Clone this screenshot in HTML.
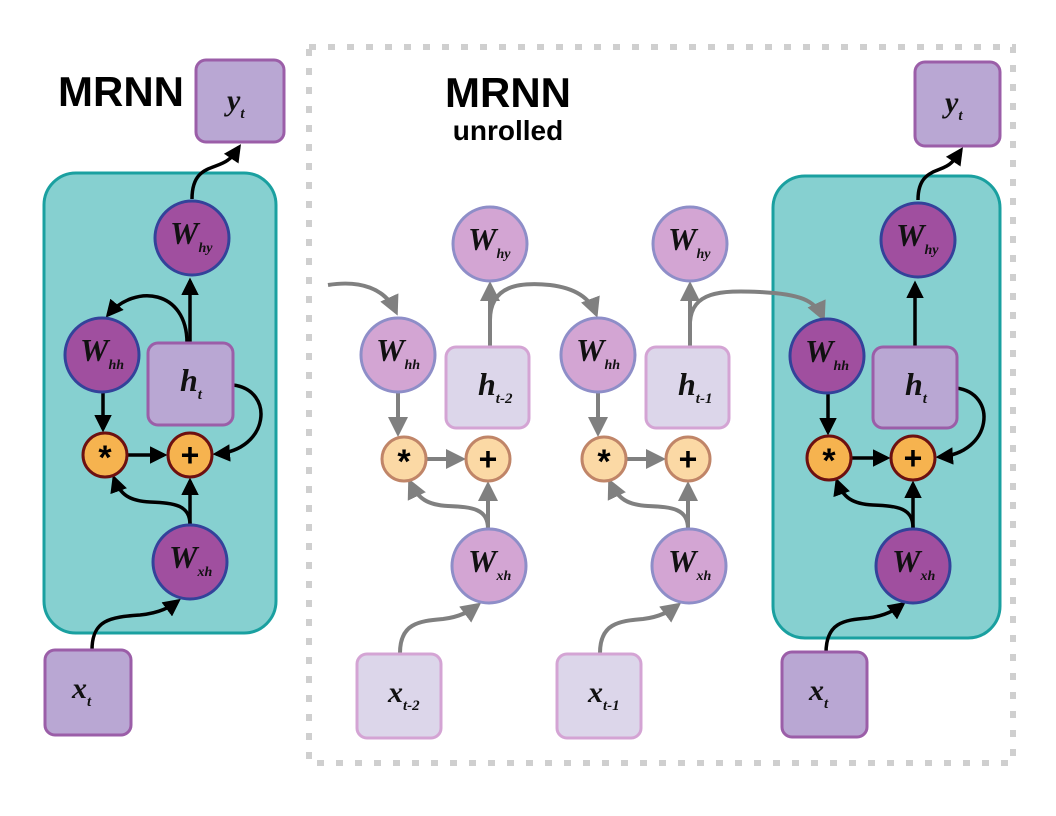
<!DOCTYPE html>
<html><head><meta charset="utf-8"><style>
html,body{margin:0;padding:0;background:#fff;width:1056px;height:816px;overflow:hidden}
svg{display:block}
.t{font-family:"Liberation Serif",serif;font-style:italic;font-weight:bold;fill:#111}
.h{font-family:"Liberation Sans",sans-serif;font-weight:bold;fill:#000}
</style></head><body>
<svg width="1056" height="816" viewBox="0 0 1056 816" xmlns="http://www.w3.org/2000/svg">
<defs>
<marker id="ab" markerWidth="5" markerHeight="5" refX="4" refY="2.5" orient="auto" markerUnits="strokeWidth"><path d="M0,0 L5,2.5 L0,5 z" fill="#000"/></marker>
<marker id="ag" markerWidth="5" markerHeight="5" refX="4" refY="2.5" orient="auto" markerUnits="strokeWidth"><path d="M0,0 L5,2.5 L0,5 z" fill="#808080"/></marker>
</defs>

<rect x="309" y="47" width="704" height="716" fill="none" stroke="#cfcfcf" stroke-width="6" stroke-dasharray="7 12"/>
<text class="h" x="58" y="106" font-size="42">MRNN</text>
<text class="h" x="508" y="107" font-size="42" text-anchor="middle">MRNN</text>
<text class="h" x="508" y="140" font-size="28" text-anchor="middle">unrolled</text>

<rect x="44" y="173" width="232" height="460" rx="32" fill="#86d0d0" stroke="#1aa0a0" stroke-width="3"/>
<rect x="773" y="176" width="227" height="462" rx="32" fill="#86d0d0" stroke="#1aa0a0" stroke-width="3"/>

<g fill="none" stroke="#808080" stroke-width="4">
<path d="M328,285 C360,280 385,288 396,312" marker-end="url(#ag)"/>
<path d="M490,320 C490,285 520,282 550,285 C575,288 590,298 596,314" marker-end="url(#ag)"/>
<path d="M690,322 C692,292 720,290 760,292 C800,294 815,300 823,318" marker-end="url(#ag)"/>
</g>

<g transform="translate(190,455)">
<g fill="none" stroke="#000" stroke-width="3.5">
<path d="M2,-256 C2,-290 25,-285 38,-295 C45,-300 47,-305 49,-308" marker-end="url(#ab)"/>
<path d="M0,-112 L0,-174" marker-end="url(#ab)"/>
<path d="M-3,-112 C-3,-165 -55,-172 -82,-140" marker-end="url(#ab)"/>
<path d="M-87,-66 L-87,-26" marker-end="url(#ab)"/>
<path d="M-63,0 L-26,0" marker-end="url(#ab)"/>
<path d="M43,-70 C85,-65 80,-5 26,-1" marker-end="url(#ab)"/>
<path d="M0,70 L0,26" marker-end="url(#ab)"/>
<path d="M0,70 C0,50 -15,48 -40,47 C-60,46 -70,40 -76,23" marker-end="url(#ab)"/>
<path d="M-98,195 C-98,165 -80,162 -50,160 C-30,158 -20,152 -12,146" marker-end="url(#ab)"/>
</g>
<rect x="6" y="-395" width="88" height="82" rx="10" fill="#b9a7d3" stroke="#9b5ea8" stroke-width="3"/>
<text class="t" x="37" y="-345" font-size="30">y<tspan font-size="15" dy="8">t</tspan></text>
<circle cx="2" cy="-217" r="37" fill="#a04f9f" stroke="#33429a" stroke-width="3"/>
<text class="t" x="-20" y="-211" font-size="32">W<tspan font-size="14" dy="8">hy</tspan></text>
<circle cx="-88" cy="-100" r="37" fill="#a04f9f" stroke="#33429a" stroke-width="3"/>
<text class="t" x="-110" y="-94" font-size="32">W<tspan font-size="14" dy="8">hh</tspan></text>
<rect x="-42" y="-112" width="85" height="82" rx="10" fill="#b9a7d3" stroke="#9b5ea8" stroke-width="3"/>
<text class="t" x="-10" y="-64" font-size="32">h<tspan font-size="15" dy="8">t</tspan></text>
<circle cx="-85" cy="0" r="22" fill="#f6b34f" stroke="#6d1010" stroke-width="3"/>
<text class="h" x="-85" y="14" font-size="34" text-anchor="middle">*</text>
<circle cx="0" cy="0" r="22" fill="#f6b34f" stroke="#6d1010" stroke-width="3"/>
<text class="h" x="0" y="11" font-size="32" text-anchor="middle">+</text>
<circle cx="0" cy="107" r="37" fill="#a04f9f" stroke="#33429a" stroke-width="3"/>
<text class="t" x="-21" y="113" font-size="32">W<tspan font-size="14" dy="8">xh</tspan></text>
<rect x="-145" y="195" width="86" height="85" rx="10" fill="#b9a7d3" stroke="#9b5ea8" stroke-width="3"/>
<text class="t" x="-118" y="243" font-size="30">x<tspan font-size="15" dy="8">t</tspan></text>
</g>

<g transform="translate(913,458)">
<g fill="none" stroke="#000" stroke-width="3.5">
<path d="M5,-258 C5,-290 28,-285 38,-295 C44,-300 46,-305 48,-308" marker-end="url(#ab)"/>
<path d="M2,-111 L2,-174" marker-end="url(#ab)"/>
<path d="M43,-70 C85,-65 80,-5 26,-1" marker-end="url(#ab)"/>
<path d="M-61,0 L-26,0" marker-end="url(#ab)"/>
<path d="M-85,-66 L-85,-26" marker-end="url(#ab)"/>
<path d="M0,70 L0,26" marker-end="url(#ab)"/>
<path d="M0,70 C0,50 -15,48 -40,47 C-60,46 -70,40 -76,23" marker-end="url(#ab)"/>
<path d="M-87,195 C-87,165 -70,162 -45,160 C-28,158 -18,152 -10,146" marker-end="url(#ab)"/>
</g>
<rect x="2" y="-396" width="85" height="84" rx="10" fill="#b9a7d3" stroke="#9b5ea8" stroke-width="3"/>
<text class="t" x="32" y="-346" font-size="30">y<tspan font-size="15" dy="8">t</tspan></text>
<circle cx="5" cy="-218" r="37" fill="#a04f9f" stroke="#33429a" stroke-width="3"/>
<text class="t" x="-17" y="-212" font-size="32">W<tspan font-size="14" dy="8">hy</tspan></text>
<circle cx="-86" cy="-102" r="37" fill="#a04f9f" stroke="#33429a" stroke-width="3"/>
<text class="t" x="-108" y="-96" font-size="32">W<tspan font-size="14" dy="8">hh</tspan></text>
<rect x="-40" y="-111" width="84" height="81" rx="10" fill="#b9a7d3" stroke="#9b5ea8" stroke-width="3"/>
<text class="t" x="-8" y="-63" font-size="32">h<tspan font-size="15" dy="8">t</tspan></text>
<circle cx="-84" cy="0" r="22" fill="#f6b34f" stroke="#6d1010" stroke-width="3"/>
<text class="h" x="-84" y="14" font-size="34" text-anchor="middle">*</text>
<circle cx="0" cy="0" r="22" fill="#f6b34f" stroke="#6d1010" stroke-width="3"/>
<text class="h" x="0" y="11" font-size="32" text-anchor="middle">+</text>
<circle cx="0" cy="108" r="37" fill="#a04f9f" stroke="#33429a" stroke-width="3"/>
<text class="t" x="-21" y="114" font-size="32">W<tspan font-size="14" dy="8">xh</tspan></text>
<rect x="-131" y="194" width="85" height="85" rx="10" fill="#b9a7d3" stroke="#9b5ea8" stroke-width="3"/>
<text class="t" x="-104" y="242" font-size="30">x<tspan font-size="15" dy="8">t</tspan></text>
</g>

<g transform="translate(488,459)">
<g fill="none" stroke="#808080" stroke-width="4">
<path d="M2,-112 L2,-174" marker-end="url(#ag)"/>
<path d="M-90,-66 L-90,-26" marker-end="url(#ag)"/>
<path d="M-62,0 L-26,0" marker-end="url(#ag)"/>
<path d="M0,70 L0,26" marker-end="url(#ag)"/>
<path d="M0,70 C0,50 -15,48 -40,47 C-60,46 -70,40 -78,23" marker-end="url(#ag)"/>
<path d="M-88,194 C-88,165 -70,162 -45,160 C-28,158 -18,152 -10,146" marker-end="url(#ag)"/>
</g>
<circle cx="2" cy="-215" r="37" fill="#d3a5d3" stroke="#8e8ec8" stroke-width="3"/>
<text class="t" x="-20" y="-209" font-size="32">W<tspan font-size="14" dy="8">hy</tspan></text>
<circle cx="-90" cy="-104" r="37" fill="#d3a5d3" stroke="#8e8ec8" stroke-width="3"/>
<text class="t" x="-112" y="-98" font-size="32">W<tspan font-size="14" dy="8">hh</tspan></text>
<rect x="-42" y="-112" width="83" height="81" rx="10" fill="#dcd6ea" stroke="#d4a4d4" stroke-width="3"/>
<text class="t" x="-10" y="-64" font-size="32">h<tspan font-size="15" dy="8">t-2</tspan></text>
<circle cx="-84" cy="0" r="22" fill="#fbd9a5" stroke="#c08568" stroke-width="3"/>
<text class="h" x="-84" y="14" font-size="34" text-anchor="middle">*</text>
<circle cx="0" cy="0" r="22" fill="#fbd9a5" stroke="#c08568" stroke-width="3"/>
<text class="h" x="0" y="11" font-size="32" text-anchor="middle">+</text>
<circle cx="1" cy="107" r="37" fill="#d3a5d3" stroke="#8e8ec8" stroke-width="3"/>
<text class="t" x="-20" y="113" font-size="32">W<tspan font-size="14" dy="8">xh</tspan></text>
<rect x="-131" y="195" width="84" height="84" rx="10" fill="#dcd6ea" stroke="#d4a4d4" stroke-width="3"/>
<text class="t" x="-100" y="243" font-size="30">x<tspan font-size="15" dy="8">t-2</tspan></text>
</g>

<g transform="translate(688,459)">
<g fill="none" stroke="#808080" stroke-width="4">
<path d="M2,-112 L2,-174" marker-end="url(#ag)"/>
<path d="M-90,-66 L-90,-26" marker-end="url(#ag)"/>
<path d="M-62,0 L-26,0" marker-end="url(#ag)"/>
<path d="M0,70 L0,26" marker-end="url(#ag)"/>
<path d="M0,70 C0,50 -15,48 -40,47 C-60,46 -70,40 -78,23" marker-end="url(#ag)"/>
<path d="M-88,194 C-88,165 -70,162 -45,160 C-28,158 -18,152 -10,146" marker-end="url(#ag)"/>
</g>
<circle cx="2" cy="-215" r="37" fill="#d3a5d3" stroke="#8e8ec8" stroke-width="3"/>
<text class="t" x="-20" y="-209" font-size="32">W<tspan font-size="14" dy="8">hy</tspan></text>
<circle cx="-90" cy="-104" r="37" fill="#d3a5d3" stroke="#8e8ec8" stroke-width="3"/>
<text class="t" x="-112" y="-98" font-size="32">W<tspan font-size="14" dy="8">hh</tspan></text>
<rect x="-42" y="-112" width="83" height="81" rx="10" fill="#dcd6ea" stroke="#d4a4d4" stroke-width="3"/>
<text class="t" x="-10" y="-64" font-size="32">h<tspan font-size="15" dy="8">t-1</tspan></text>
<circle cx="-84" cy="0" r="22" fill="#fbd9a5" stroke="#c08568" stroke-width="3"/>
<text class="h" x="-84" y="14" font-size="34" text-anchor="middle">*</text>
<circle cx="0" cy="0" r="22" fill="#fbd9a5" stroke="#c08568" stroke-width="3"/>
<text class="h" x="0" y="11" font-size="32" text-anchor="middle">+</text>
<circle cx="1" cy="107" r="37" fill="#d3a5d3" stroke="#8e8ec8" stroke-width="3"/>
<text class="t" x="-20" y="113" font-size="32">W<tspan font-size="14" dy="8">xh</tspan></text>
<rect x="-131" y="195" width="84" height="84" rx="10" fill="#dcd6ea" stroke="#d4a4d4" stroke-width="3"/>
<text class="t" x="-100" y="243" font-size="30">x<tspan font-size="15" dy="8">t-1</tspan></text>
</g>
</svg>
</body></html>
